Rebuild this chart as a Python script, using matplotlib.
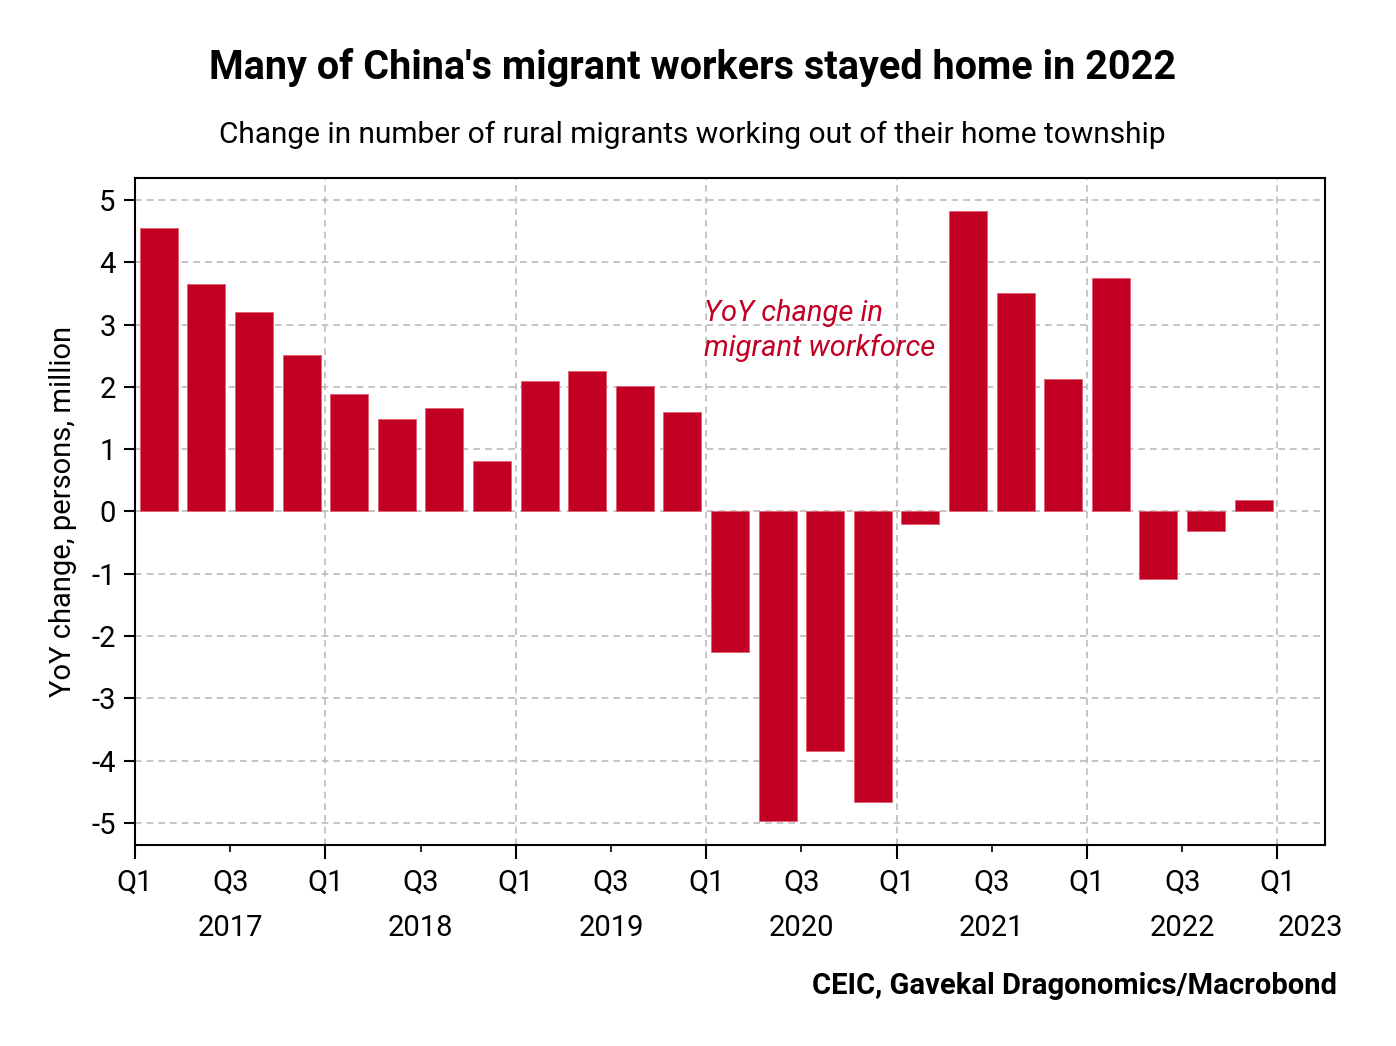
import matplotlib
matplotlib.use("Agg")
import matplotlib.pyplot as plt
from matplotlib import font_manager
from matplotlib.ticker import FixedLocator, FixedFormatter

# quarterly YoY change, persons, million (2017 Q1 .. 2022 Q4)
quarters = ["2017Q1", "2017Q2", "2017Q3", "2017Q4",
            "2018Q1", "2018Q2", "2018Q3", "2018Q4",
            "2019Q1", "2019Q2", "2019Q3", "2019Q4",
            "2020Q1", "2020Q2", "2020Q3", "2020Q4",
            "2021Q1", "2021Q2", "2021Q3", "2021Q4",
            "2022Q1", "2022Q2", "2022Q3", "2022Q4"]
yoy_change = [4.55, 3.65, 3.20, 2.51,
              1.88, 1.49, 1.66, 0.81,
              2.10, 2.26, 2.01, 1.59,
              -2.26, -4.97, -3.84, -4.66,
              -0.20, 4.82, 3.51, 2.13,
              3.75, -1.09, -0.32, 0.18]
years = ["2017", "2018", "2019", "2020", "2021", "2022", "2023"]

RED = "#C10023"

installed = {f.name for f in font_manager.fontManager.ttflist}
family = "Liberation Sans Narrow" if "Liberation Sans Narrow" in installed else "Roboto"
plt.rcParams["font.family"] = [family, "DejaVu Sans"]

fig = plt.figure(figsize=(13.96, 10.46), dpi=100)
ax = fig.add_axes([0.0967, 0.1922, 0.8524, 0.6376])

x = [i + 0.5 for i in range(len(quarters))]
ax.bar(x, yoy_change, width=0.8, color=RED, edgecolor="#E06070", linewidth=0.6, zorder=3)

ax.set_xlim(0, 25)
ax.set_ylim(-5.35, 5.35)
ax.set_yticks(range(-5, 6))
ax.set_yticklabels([str(v) for v in range(-5, 6)])

q1_pos = list(range(0, 25, 4))
q3_pos = list(range(2, 25, 4))
ax.xaxis.set_major_locator(FixedLocator(q1_pos))
ax.xaxis.set_major_formatter(FixedFormatter(["Q1"] * len(q1_pos)))
ax.xaxis.set_minor_locator(FixedLocator(q3_pos))
ax.xaxis.set_minor_formatter(FixedFormatter(["Q3"] * len(q3_pos)))

ax.tick_params(axis="x", which="major", length=10, width=1.5, labelsize=21, pad=7, color="black")
ax.tick_params(axis="x", which="minor", length=5, width=1.2, labelsize=21, pad=12)
ax.tick_params(axis="y", length=8, width=1.5, labelsize=21, pad=6)

ax.grid(axis="y", color="#BBBBBB", linestyle=(0, (4, 3)), linewidth=1.2, zorder=0)
ax.grid(axis="x", which="major", color="#BBBBBB", linestyle=(0, (4, 3)), linewidth=1.2, zorder=0)
for s in ax.spines.values():
    s.set_linewidth(1.5)

# year labels under Q3 ticks, 2023 after the last Q1
year_pos = q3_pos + [24.7]
for yp, yr in zip(year_pos, years):
    ax.text(yp, -0.124, yr, transform=ax.get_xaxis_transform(), ha="center", va="center", fontsize=21)

ax.set_ylabel("YoY change, persons, million", fontsize=21, labelpad=10)

ax.text(11.95, 2.9, "YoY change in\nmigrant workforce", color=RED, fontsize=21,
        style="italic", ha="left", va="center", linespacing=1.3)

fig.text(0.496, 0.935, "Many of China's migrant workers stayed home in 2022",
         ha="center", va="center", fontsize=28.5, fontweight="bold")
fig.text(0.496, 0.871, "Change in number of rural migrants working out of their home township",
         ha="center", va="center", fontsize=21.5)
fig.text(0.958, 0.057, "CEIC, Gavekal Dragonomics/Macrobond",
         ha="right", va="center", fontsize=21, fontweight="bold")

fig.savefig("out.png", dpi=100)
